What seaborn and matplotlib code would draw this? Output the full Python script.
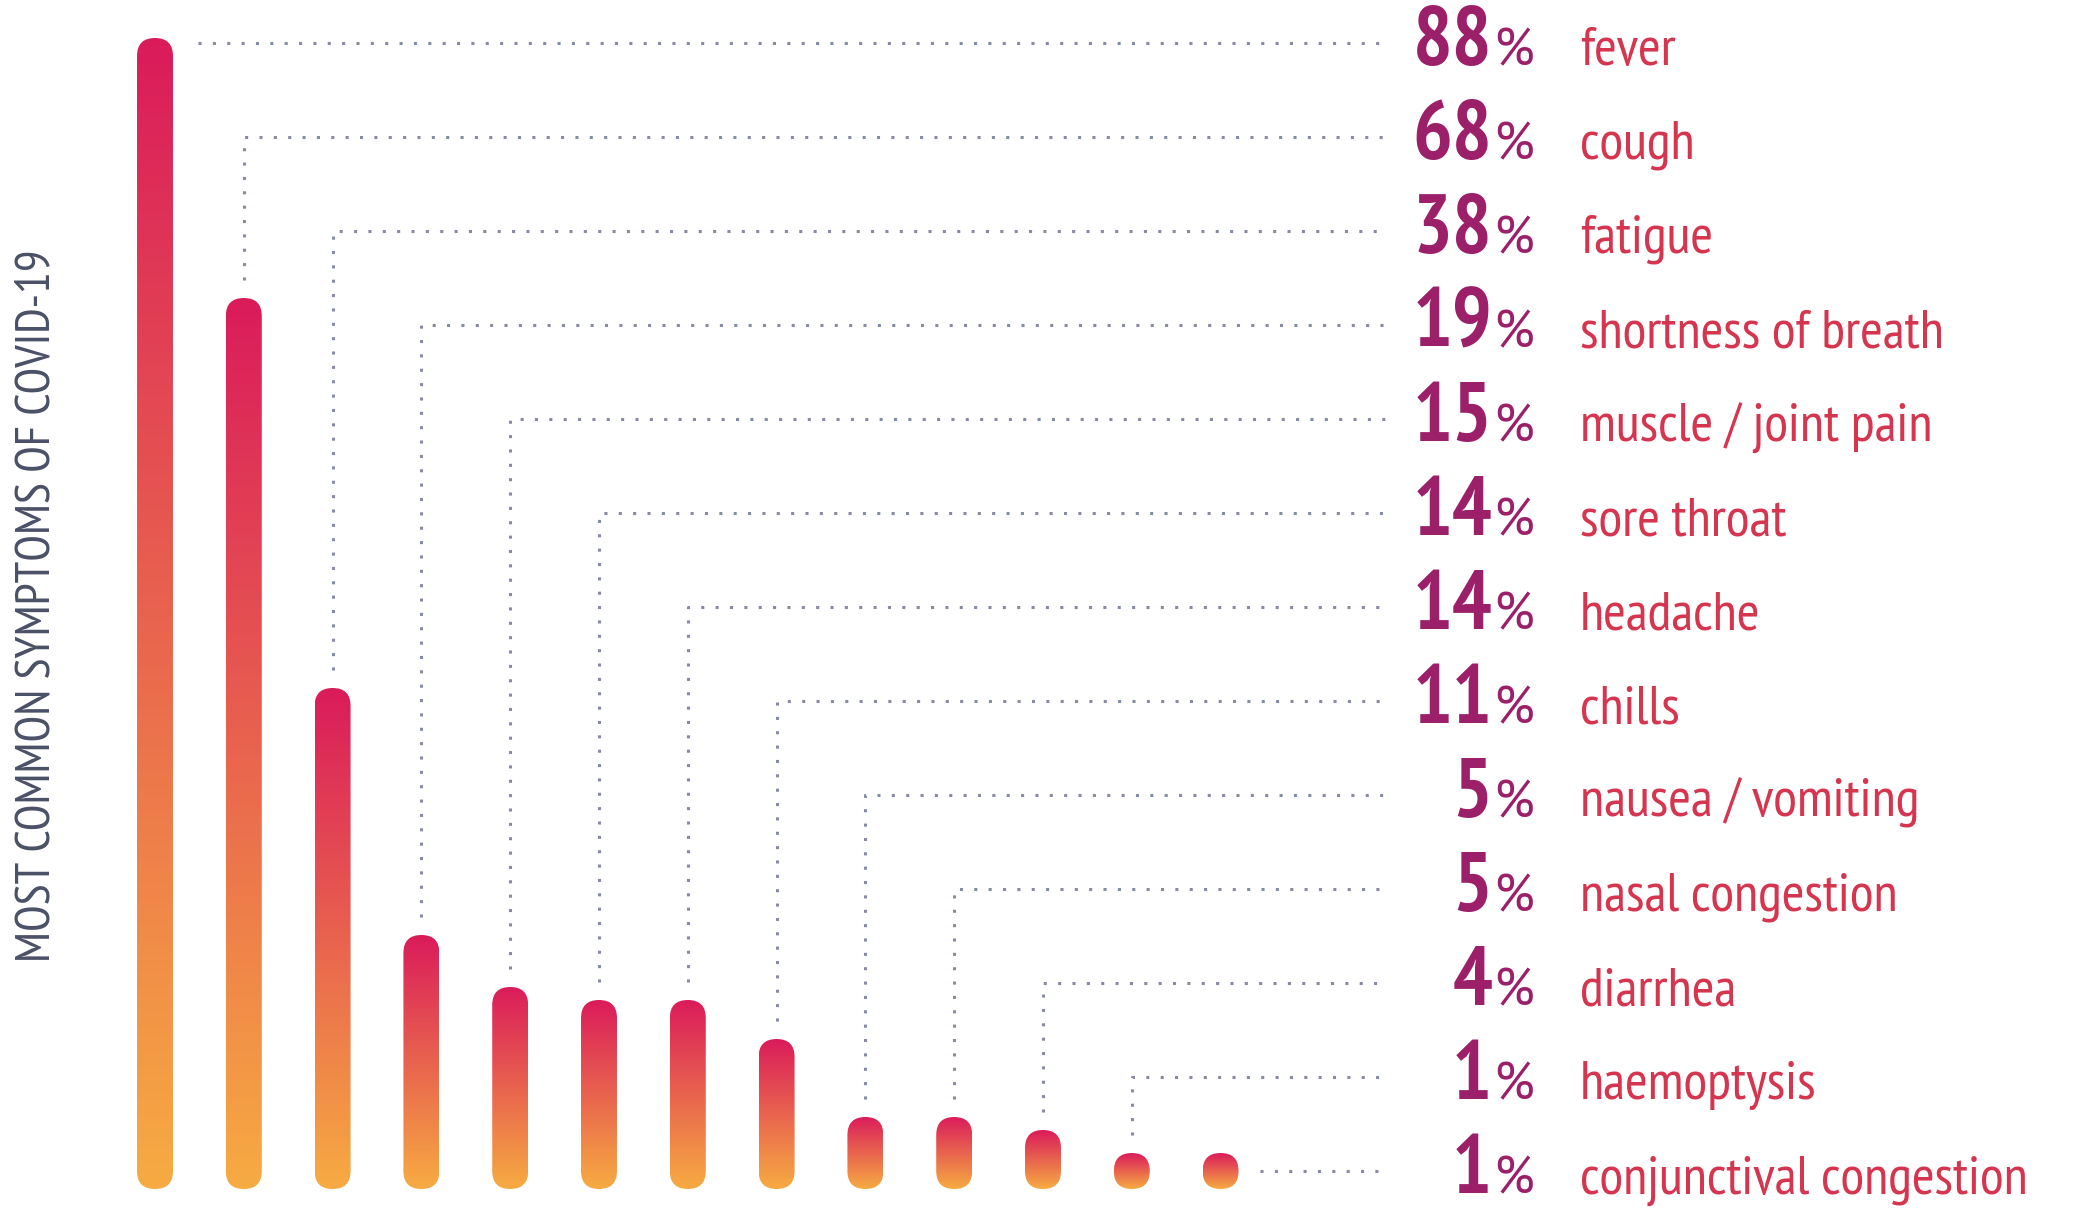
import numpy as np
import matplotlib
matplotlib.use("Agg")
import matplotlib.pyplot as plt
import seaborn as sns
from matplotlib.colors import LinearSegmentedColormap
from matplotlib.patches import FancyBboxPatch

symptoms = ["fever", "cough", "fatigue", "shortness of breath", "muscle / joint pain",
            "sore throat", "headache", "chills", "nausea / vomiting", "nasal congestion",
            "diarrhea", "haemoptysis", "conjunctival congestion"]
percent = [88, 68, 38, 19, 15, 14, 14, 11, 5, 5, 4, 1, 1]
title = "MOST COMMON SYMPTOMS OF COVID-19"

W, H = 2078, 1220
sns.set_theme(style="white")
plt.rcParams["font.family"] = ["PT Sans Narrow", "Fira Sans Condensed", "Barlow Condensed", "DejaVu Sans"]

fig = plt.figure(figsize=(W / 100, H / 100), dpi=100)
ax = fig.add_axes([0, 0, 1, 1])
sns.barplot(x=symptoms, y=percent, width=0.405, color="#e05060", errorbar=None, ax=ax)

# pixel layout: first bar centre, bar spacing, baseline and px per percent
x0px, xstep = 155, 88.8
ybot, ky = 38, 13.0
aspect = xstep / ky
pad = 7 / ky

cmap = LinearSegmentedColormap.from_list("sym", ["#f7ab42", "#da1b5b"])
grad = np.linspace(0, 1, 256).reshape(-1, 1)
tops = []
for p in list(ax.patches):
    x, w, h = p.get_x(), p.get_width(), p.get_height()
    p.set_visible(False)
    # tiny values end up as a circle
    top = max(h, w * aspect - pad)
    box = FancyBboxPatch((x, -pad), w, top + pad, boxstyle=f"round,pad=0,rounding_size={w / 2}",
                         mutation_aspect=aspect, linewidth=0, facecolor="none")
    ax.add_patch(box)
    im = ax.imshow(grad, cmap=cmap, origin="lower", extent=(x, x + w, -pad, top),
                   aspect="auto", zorder=2)
    im.set_clip_path(box)
    tops.append(top)

ax.set_xlim(-x0px / xstep, (W - x0px) / xstep)
ax.set_ylim(-ybot / ky, (H - ybot) / ky)
ax.axis("off")

dot = dict(color="#858ba3", lw=2.2, ls=(0, (1, 3.7)), zorder=1)
x_end = (1387 - x0px) / xstep
n = len(symptoms)
y_lo, y_hi = ax.get_ylim()
for i in range(n):
    row_px = 43 + 94 * i
    ry = y_hi - row_px * (y_hi - y_lo) / H
    if i == 0:
        ax.plot([(198 - x0px) / xstep, x_end], [ry, ry], **dot)
    elif i == n - 1:
        ax.plot([(1260 - x0px) / xstep, x_end], [ry, ry], **dot)
    else:
        ax.plot([i, i, x_end], [tops[i] + 18 / ky, ry, ry], **dot)

    base = 1 - (row_px + 22) / H
    fig.text(1492 / W, base, str(percent[i]), ha="right", va="baseline",
             fontsize=60, fontweight="bold", color="#9c1f6a")
    fig.text(1493 / W, base, "%", ha="left", va="baseline",
             fontsize=38, color="#9c1f6a", family=["PT Sans", "PT Sans Narrow", "DejaVu Sans"])
    fig.text(1580 / W, base, symptoms[i], ha="left", va="baseline",
             fontsize=39.5, color="#d5354f")

fig.text(37 / W, 1 - 606 / H, title, rotation=90, ha="center", va="center",
         fontsize=35, color="#4a5066")

fig.savefig("out.png", dpi=100)
